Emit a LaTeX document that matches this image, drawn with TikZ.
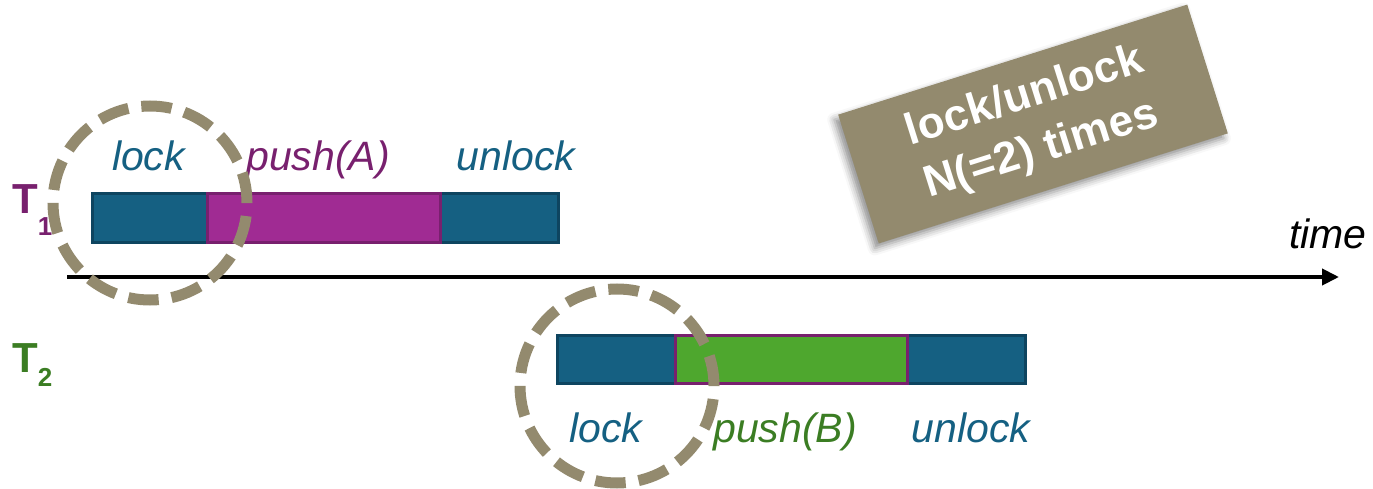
\documentclass[tikz,border=0pt]{standalone}
\usepackage{fontspec}
\setmainfont{Liberation Sans}
\newfontfamily\notefont[LetterSpace=1]{Liberation Sans}
\usetikzlibrary{arrows.meta,shadows.blur}

\definecolor{barteal}{HTML}{156082}
\definecolor{barpurple}{HTML}{A02B93}
\definecolor{bargreen}{HTML}{4EA72E}
\definecolor{edgeteal}{HTML}{0E4560}
\definecolor{edgepurple}{HTML}{78206E}
\definecolor{txtgreen}{HTML}{3B7D23}
\definecolor{ringtan}{HTML}{938A6E}

\begin{document}
\begin{tikzpicture}[x=1pt,y=-1pt,
  seg/.style={rectangle, line width=3pt, minimum height=48pt, inner sep=0pt, outer sep=0pt},
  lockseg/.style={seg, fill=barteal, draw=edgeteal},
  pushA/.style={seg, fill=barpurple, draw=edgepurple},
  pushB/.style={seg, fill=bargreen, draw=edgepurple},
  lbl/.style={anchor=base, inner sep=0pt, font=\fontsize{41}{49}\selectfont\itshape},
  thread/.style={anchor=base west, inner sep=0pt, font=\bfseries\fontsize{42}{50}\selectfont},
  ring/.style={circle, minimum size=194pt, inner sep=0pt, draw=ringtan, line width=11pt,
    dash pattern=on 30.5pt off 13.03pt},
  axis/.style={line width=4pt, -{Triangle[length=17pt,width=16pt]}},
  note/.style={rotate=17.5, fill=ringtan, minimum width=366pt, minimum height=135pt,
    text=white, font=\notefont\bfseries\fontsize{44}{56}\selectfont, align=center,
    blur shadow={shadow xshift=-4pt, shadow yshift=-5pt, shadow blur radius=7pt, shadow opacity=45}},
]
\useasboundingbox (0,0) rectangle (1373,489);

% thread 1: lock / push(A) / unlock
\node[lockseg, minimum width=115pt] (lock1) at (149.5,218) {};
\node[lockseg, minimum width=118pt] (unlock1) at (499,218) {};
\node[pushA, minimum width=233pt] (push1) at (323.5,218) {};

% thread 2: lock / push(B) / unlock
\node[lockseg, minimum width=118pt] (lock2) at (616,359) {};
\node[lockseg, minimum width=118pt] (unlock2) at (966,359) {};
\node[pushB, minimum width=232pt] (push2) at (791,359) {};

% operation labels
\node[lbl, text=barteal] (l1) at (148.5,171) {lock};
\node[lbl, text=edgepurple] (p1) at (318,171) {push(A)};
\node[lbl, text=barteal] (u1) at (516,171) {unlock};
\node[lbl, text=barteal] (l2) at (606,442) {lock};
\node[lbl, text=txtgreen] (p2) at (785,442) {push(B)};
\node[lbl, text=barteal] (u2) at (971,442) {unlock};

% thread names
\node[thread, text=edgepurple] (t1) at (12,214)
  {T{\fontsize{26}{26}\selectfont\raisebox{-21pt}{1}}};
\node[thread, text=txtgreen] (t2) at (12,372)
  {T{\fontsize{26}{26}\selectfont\raisebox{-14pt}{2}}};

% time axis
\coordinate (ax0) at (67,277);
\coordinate (ax1) at (1339,277);
\draw[axis] (ax0) -- (ax1);
\node[lbl] (time) at (1328,248) {time};

% highlighted lock regions
\node[ring] (r1) at (150,203) {};
\node[ring] (r2) at (617,386) {};

% note
\node[note] (remark) at (1033,124) {lock/unlock\\N(=2) times};
\end{tikzpicture}
\end{document}
